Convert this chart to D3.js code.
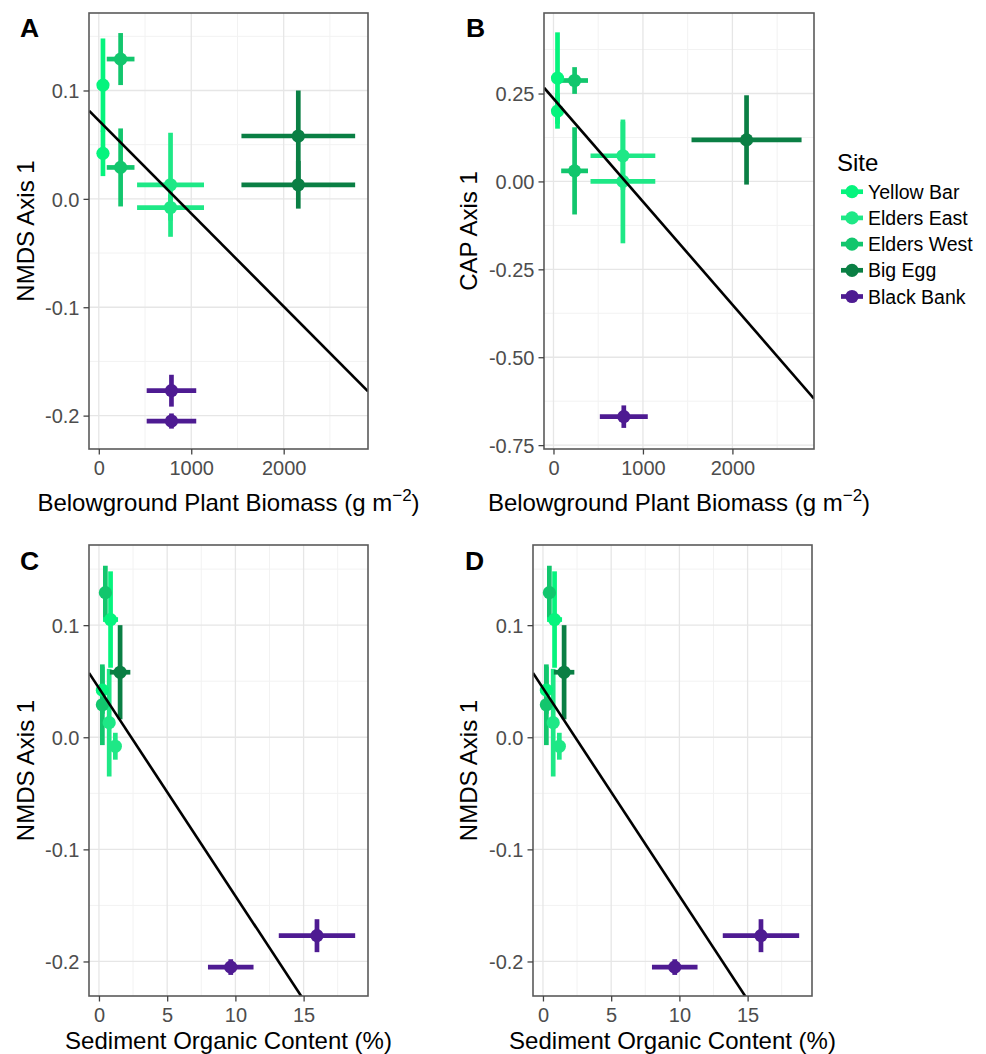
<!DOCTYPE html>
<html>
<head>
<meta charset="utf-8">
<script src="https://cdn.jsdelivr.net/npm/d3@7/dist/d3.min.js"></script>
<style>
  html, body { margin: 0; padding: 0; background: #ffffff; }
  svg { display: block; font-family: "Liberation Sans", Arial, Helvetica, sans-serif; }
</style>
</head>
<body>
<svg id="fig" width="986" height="1054"></svg>
<script>
// ---- Sites and colours ----
const sites = ["Yellow Bar", "Elders East", "Elders West", "Big Egg", "Black Bank"];
const siteColors = ["#05F47D", "#1EE886", "#12C66D", "#0A7F44", "#4E1B92"];

// ---- Site means (two sampling events per site) with standard errors ----
const obsSite   = ["Yellow Bar", "Yellow Bar", "Elders East", "Elders East", "Elders West",
                   "Elders West", "Big Egg", "Big Egg", "Black Bank", "Black Bank"];
const biomass   = [45, 45, 776, 776, 236, 236, 2158, 2158, 786, 786];
const biomassSE = [15, 15, 362, 362, 150, 150, 615, 615, 268, 268];
const nmds1     = [0.105, 0.042, 0.013, -0.008, 0.129, 0.029, 0.058, 0.013, -0.177, -0.205];
const nmds1SE   = [0.043, 0.021, 0.048, 0.012, 0.024, 0.036, 0.042, 0.022, 0.0147, 0.007];
const cap1      = [0.294, 0.200, 0.073, 0.000, 0.287, 0.030, 0.118, null, -0.669, null];
const cap1SE    = [0.130, 0.050, 0.097, 0.176, 0.038, 0.124, 0.127, null, 0.032, null];
const organic   = [0.85, 0.25, 0.75, 1.20, 0.47, 0.25, 1.55, null, 15.98, 9.66];
const organicSE = [0.55, 0.10, 0.15, 0.20, 0.15, 0.10, 0.75, null, 2.80, 1.67];

// ---- Linear fits (intercept, slope) for panels A, B, C, D ----
const fitLabels    = ["A", "B", "C", "D"];
const fitIntercept = [0.0723, 0.2355, 0.0438, 0.0438];
const fitSlope     = [-8.58e-5, -2.93e-4, -0.01853, -0.01853];

// ---- Axis ticks ----
const biomassTicks  = [0, 1000, 2000];
const organicTicks  = [0, 5, 10, 15];
const nmdsTicks     = [-0.2, -0.1, 0.0, 0.1];
const capTicks      = [-0.75, -0.50, -0.25, 0.00, 0.25];

// Build one record per observation
const rows = obsSite.map((s, i) => ({
  site: s,
  color: siteColors[sites.indexOf(s)],
  biomass: biomass[i], biomassSE: biomassSE[i],
  nmds1: nmds1[i], nmds1SE: nmds1SE[i],
  cap1: cap1[i], cap1SE: cap1SE[i],
  organic: organic[i], organicSE: organicSE[i]
}));

const svg = d3.select("#fig");

// Panel frames and settings
const panels = [
  { label: "A", box: [89, 13, 368, 449], xKey: "biomass", yKey: "nmds1",
    xDomain: [-106, 2912], yDomain: [-0.2308, 0.1715],
    xTicks: biomassTicks, yTicks: nmdsTicks, xFmt: d3.format("d"), yFmt: d3.format(".1f"),
    xTitle: "biomass", yTitle: "NMDS Axis 1", titleX: 33.5, labelPos: [20, 37], xTitleY: 510.5 },
  { label: "B", box: [544, 13, 814, 449], xKey: "biomass", yKey: "cap1",
    xDomain: [-106, 2912], yDomain: [-0.761, 0.479],
    xTicks: biomassTicks, yTicks: capTicks, xFmt: d3.format("d"), yFmt: d3.format(".2f"),
    xTitle: "biomass", yTitle: "CAP Axis 1", titleX: 477, labelPos: [466, 37], xTitleY: 510.5 },
  { label: "C", box: [89, 545, 368, 996], xKey: "organic", yKey: "nmds1",
    xDomain: [-0.73, 19.72], yDomain: [-0.2308, 0.1715],
    xTicks: organicTicks, yTicks: nmdsTicks, xFmt: d3.format("d"), yFmt: d3.format(".1f"),
    xTitle: "Sediment Organic Content (%)", yTitle: "NMDS Axis 1", titleX: 33.5, labelPos: [20, 570], xTitleY: 1049 },
  { label: "D", box: [533, 545, 812, 996], xKey: "organic", yKey: "nmds1",
    xDomain: [-0.73, 19.72], yDomain: [-0.2308, 0.1715],
    xTicks: organicTicks, yTicks: nmdsTicks, xFmt: d3.format("d"), yFmt: d3.format(".1f"),
    xTitle: "Sediment Organic Content (%)", yTitle: "NMDS Axis 1", titleX: 477, labelPos: [465, 570], xTitleY: 1049 }
];

const minus = s => s.replace("−", "-");

panels.forEach((p) => {
  const [x0, y0, x1, y1] = p.box;
  const x = d3.scaleLinear().domain(p.xDomain).range([x0, x1]);
  const y = d3.scaleLinear().domain(p.yDomain).range([y1, y0]);
  const g = svg.append("g");

  // background
  g.append("rect").attr("x", x0).attr("y", y0).attr("width", x1 - x0).attr("height", y1 - y0)
    .attr("fill", "#ffffff");

  // minor grid (midpoints between major ticks)
  const xStep = p.xTicks[1] - p.xTicks[0];
  const yStep = p.yTicks[1] - p.yTicks[0];
  const xMinor = d3.range(p.xTicks[0] - xStep / 2, p.xDomain[1], xStep).filter(v => v > p.xDomain[0] && v < p.xDomain[1]);
  const yMinor = d3.range(p.yTicks[0] - yStep / 2, p.yDomain[1], yStep).filter(v => v > p.yDomain[0] && v < p.yDomain[1]);
  g.selectAll(".vminor").data(xMinor).join("line")
    .attr("x1", d => x(d)).attr("x2", d => x(d)).attr("y1", y0).attr("y2", y1)
    .attr("stroke", "#f2f2f2").attr("stroke-width", 1);
  g.selectAll(".hminor").data(yMinor).join("line")
    .attr("x1", x0).attr("x2", x1).attr("y1", d => y(d)).attr("y2", d => y(d))
    .attr("stroke", "#f2f2f2").attr("stroke-width", 1);
  // major grid
  g.selectAll(".vmajor").data(p.xTicks).join("line")
    .attr("x1", d => x(d)).attr("x2", d => x(d)).attr("y1", y0).attr("y2", y1)
    .attr("stroke", "#e6e6e6").attr("stroke-width", 1.3);
  g.selectAll(".hmajor").data(p.yTicks).join("line")
    .attr("x1", x0).attr("x2", x1).attr("y1", d => y(d)).attr("y2", d => y(d))
    .attr("stroke", "#e6e6e6").attr("stroke-width", 1.3);

  // clip to the panel
  const clipId = "clip" + p.label;
  svg.append("clipPath").attr("id", clipId).append("rect")
    .attr("x", x0).attr("y", y0).attr("width", x1 - x0).attr("height", y1 - y0);
  const plot = g.append("g").attr("clip-path", `url(#${clipId})`);

  const data = rows.filter(r => r[p.xKey] != null && r[p.yKey] != null);

  // vertical error bars
  plot.selectAll(".ev").data(data).join("line")
    .attr("x1", d => x(d[p.xKey])).attr("x2", d => x(d[p.xKey]))
    .attr("y1", d => y(d[p.yKey] - d[p.yKey + "SE"])).attr("y2", d => y(d[p.yKey] + d[p.yKey + "SE"]))
    .attr("stroke", d => d.color).attr("stroke-width", 4.7);
  // horizontal error bars
  plot.selectAll(".eh").data(data).join("line")
    .attr("x1", d => x(d[p.xKey] - d[p.xKey + "SE"])).attr("x2", d => x(d[p.xKey] + d[p.xKey + "SE"]))
    .attr("y1", d => y(d[p.yKey])).attr("y2", d => y(d[p.yKey]))
    .attr("stroke", d => d.color).attr("stroke-width", 4.7);
  // points
  plot.selectAll(".pt").data(data).join("circle")
    .attr("cx", d => x(d[p.xKey])).attr("cy", d => y(d[p.yKey])).attr("r", 6.6)
    .attr("fill", d => d.color);

  // fitted line
  const fi = fitLabels.indexOf(p.label);
  const fitPts = p.xDomain.map(v => [v, fitIntercept[fi] + fitSlope[fi] * v]);
  plot.append("path")
    .attr("d", d3.line().x(d => x(d[0])).y(d => y(d[1]))(fitPts))
    .attr("stroke", "#000").attr("stroke-width", 2.6).attr("fill", "none");

  // panel border
  g.append("rect").attr("x", x0).attr("y", y0).attr("width", x1 - x0).attr("height", y1 - y0)
    .attr("fill", "none").attr("stroke", "#5a5a5a").attr("stroke-width", 1.6);

  // axes
  const xAxis = g.append("g").attr("transform", `translate(0,${y1})`)
    .call(d3.axisBottom(x).tickValues(p.xTicks).tickFormat(d => minus(p.xFmt(d))).tickSize(5.5).tickPadding(6));
  const yAxis = g.append("g").attr("transform", `translate(${x0},0)`)
    .call(d3.axisLeft(y).tickValues(p.yTicks).tickFormat(d => minus(p.yFmt(d))).tickSize(5.5).tickPadding(4));
  [xAxis, yAxis].forEach(a => {
    a.select(".domain").remove();
    a.selectAll(".tick line").attr("stroke", "#444").attr("stroke-width", 1.3);
    a.selectAll(".tick text").attr("fill", "#4d4d4d").style("font-size", "20px")
      .style("font-family", '"Liberation Sans", Arial, sans-serif');
  });
  yAxis.selectAll(".tick text").attr("dy", "0.36em");

  // axis titles
  const cx = (x0 + x1) / 2;
  const xt = g.append("text").attr("x", cx).attr("y", p.xTitleY).attr("text-anchor", "middle")
    .style("font-size", "24px").attr("fill", "#000");
  if (p.xTitle === "biomass") {
    xt.append("tspan").text("Belowground Plant Biomass (g m");
    xt.append("tspan").text("−2").style("font-size", "17px").attr("dy", -10);
    xt.append("tspan").text(")").attr("dy", 10);
  } else {
    xt.text(p.xTitle);
  }
  g.append("text").attr("transform", `translate(${p.titleX},${(y0 + y1) / 2}) rotate(-90)`)
    .attr("text-anchor", "middle").style("font-size", "24px").attr("fill", "#000").text(p.yTitle);

  // panel letter
  g.append("text").attr("x", p.labelPos[0]).attr("y", p.labelPos[1])
    .style("font-size", "26.5px").style("font-weight", "bold").attr("fill", "#000").text(p.label);
});

// ---- Legend ----
const leg = svg.append("g");
leg.append("text").attr("x", 837).attr("y", 171).style("font-size", "24px").attr("fill", "#000").text("Site");
const item = leg.selectAll(".item").data(sites).join("g")
  .attr("transform", (d, i) => `translate(852,${191.7 + i * 26.2})`);
item.append("line").attr("x1", -11).attr("x2", 11).attr("y1", 0).attr("y2", 0)
  .attr("stroke", (d, i) => siteColors[i]).attr("stroke-width", 4.7);
item.append("circle").attr("r", 6.6).attr("fill", (d, i) => siteColors[i]);
item.append("text").attr("x", 16).attr("y", 7).style("font-size", "19.5px").attr("fill", "#000").text(d => d);
</script>
</body>
</html>
